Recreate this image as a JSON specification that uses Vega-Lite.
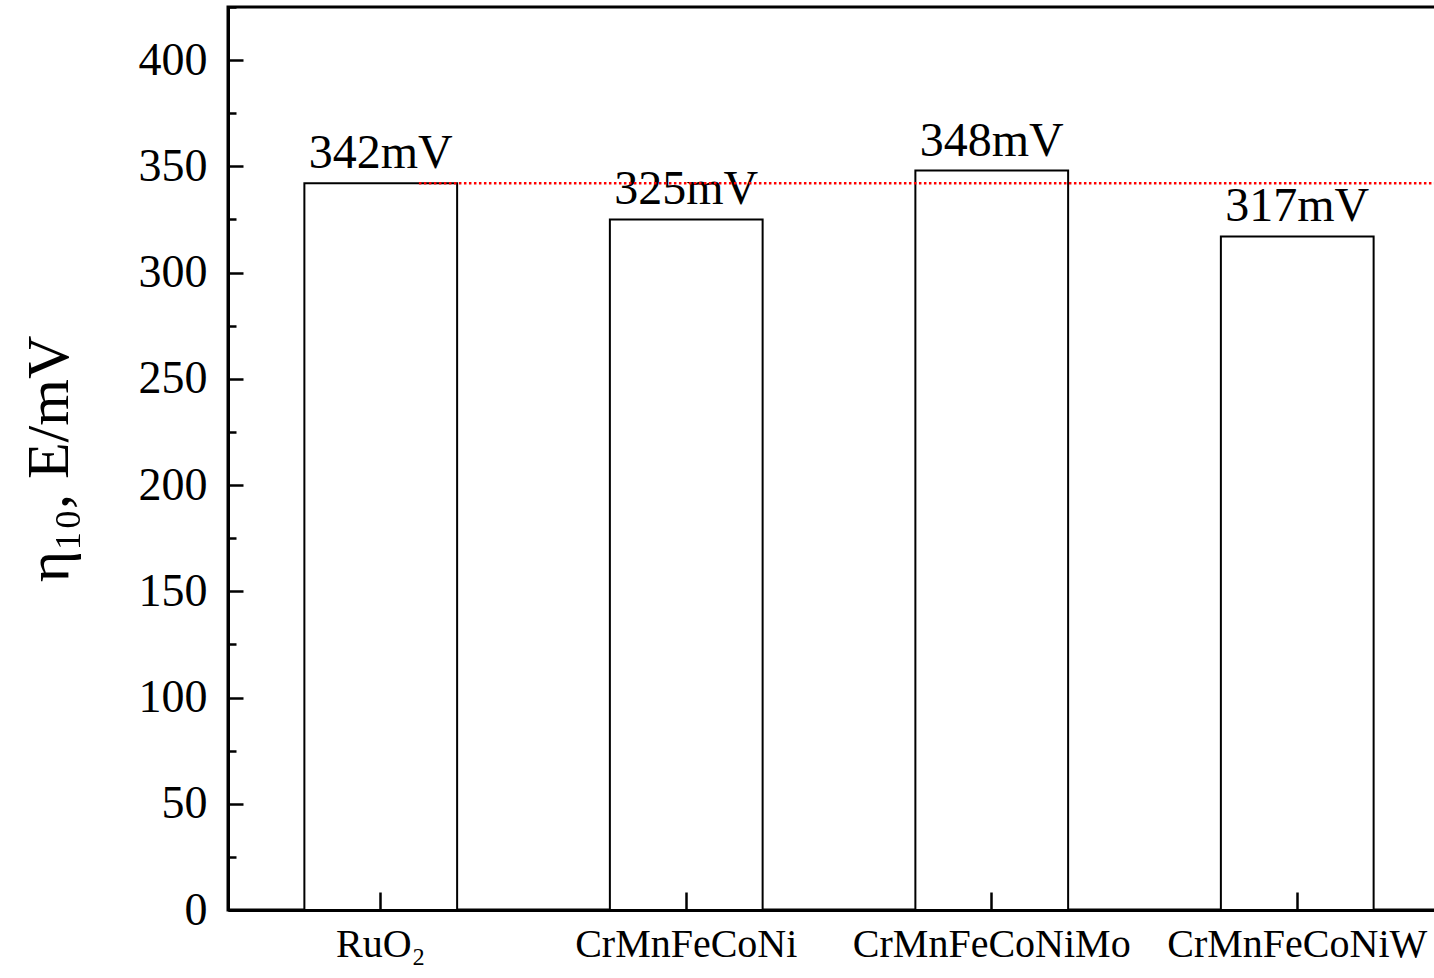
{
  "$schema": "https://vega.github.io/schema/vega-lite/v6.json",
  "autosize": "none",
  "padding": {"left": 228, "top": 7, "right": 0, "bottom": 68},
  "width": 1222,
  "height": 903,
  "background": "white",
  "config": {
    "view": {"stroke": "black", "strokeWidth": 3},
    "font": "Liberation Serif"
  },
  "datasets": {
    "bars": [
      {"catalyst": "RuO₂", "eta": 342, "label": "342mV"},
      {"catalyst": "CrMnFeCoNi", "eta": 325, "label": "325mV"},
      {"catalyst": "CrMnFeCoNiMo", "eta": 348, "label": "348mV"},
      {"catalyst": "CrMnFeCoNiW", "eta": 317, "label": "317mV"}
    ],
    "ref": [{"catalyst": "RuO₂", "eta": 342}]
  },
  "resolve": {"axis": {"y": "independent"}},
  "layer": [
    {
      "data": {"name": "bars"},
      "mark": {"type": "bar", "fill": "white", "stroke": "black", "strokeWidth": 2},
      "encoding": {
        "x": {
          "field": "catalyst", "type": "nominal", "sort": null,
          "scale": {"domain": ["RuO₂", "CrMnFeCoNi", "CrMnFeCoNiMo", "CrMnFeCoNiW"], "paddingInner": 0.5, "paddingOuter": 0.25},
          "axis": {
            "title": null, "labelAngle": 0, "labelFont": "Liberation Serif", "labelFontSize": 40, "labelLimit": 0,
            "labelColor": "black", "tickSize": -18, "tickWidth": 2.5, "tickColor": "black", "zindex": 1,
            "domainColor": "black", "domainWidth": 3, "labelPadding": 32, "grid": false
          }
        },
        "y": {
          "field": "eta", "type": "quantitative",
          "scale": {"domain": [0, 425], "nice": false},
          "axis": {
            "title": "η₁₀, E/mV", "titleFont": "Liberation Serif", "titleFontSize": 60, "titleFontWeight": "normal",
            "titleColor": "black", "titlePadding": 58,
            "values": [0, 50, 100, 150, 200, 250, 300, 350, 400],
            "labelFont": "Liberation Serif", "labelFontSize": 46, "labelColor": "black",
            "tickSize": -15, "tickWidth": 2.5, "tickColor": "black", "labelPadding": 36,
            "domainColor": "black", "domainWidth": 3, "grid": false
          }
        }
      }
    },
    {
      "data": {"name": "bars"},
      "mark": {"type": "text", "baseline": "alphabetic", "dy": -15, "fontSize": 48, "font": "Liberation Serif", "color": "black"},
      "encoding": {
        "x": {"field": "catalyst", "type": "nominal", "sort": null},
        "y": {
          "field": "eta", "type": "quantitative",
          "axis": {
            "orient": "left", "title": null, "labels": false, "domain": false, "grid": false,
            "values": [25, 75, 125, 175, 225, 275, 325, 375, 425],
            "tickSize": -8, "tickWidth": 2.5, "tickColor": "black"
          }
        },
        "text": {"field": "label"}
      }
    },
    {
      "data": {"name": "ref"},
      "mark": {"type": "rule", "color": "#ff0000", "strokeWidth": 2.5, "strokeDash": [2.5, 2.5]},
      "encoding": {
        "x": {"field": "catalyst", "type": "nominal", "sort": null, "bandPosition": 0.75},
        "x2": {"value": "width"},
        "y": {"field": "eta", "type": "quantitative", "axis": null}
      }
    }
  ]
}
